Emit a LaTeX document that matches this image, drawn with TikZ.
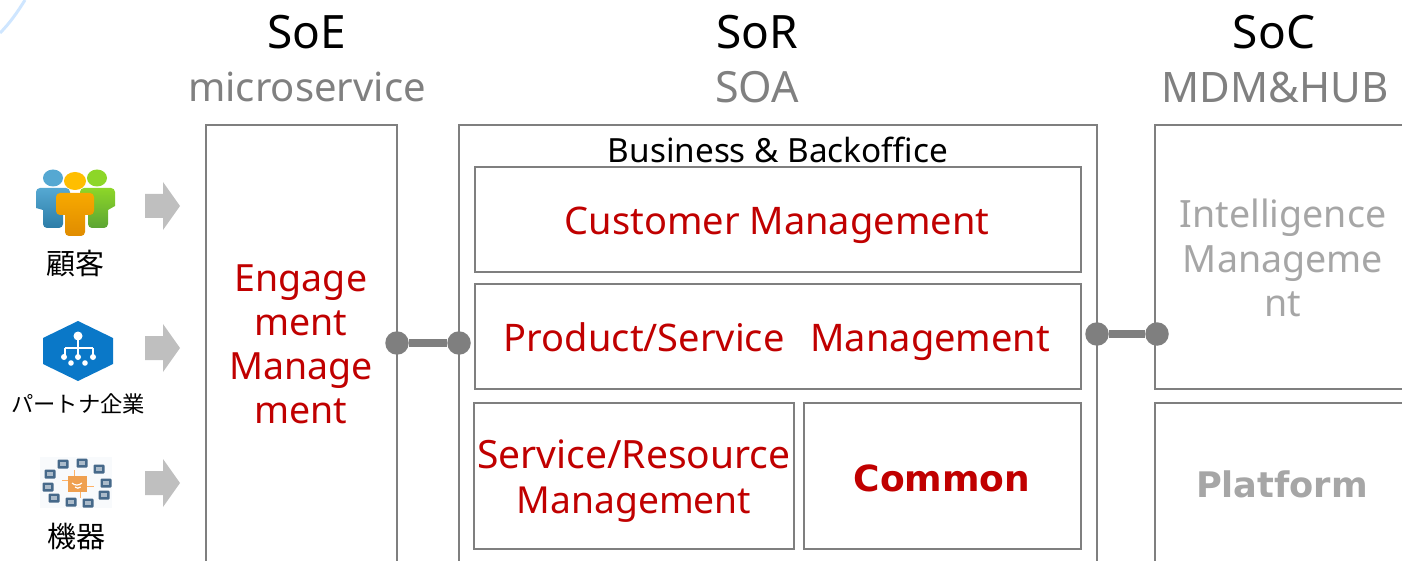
\documentclass[tikz,border=0pt]{standalone}
\usepackage{fontspec}
\setmainfont{Noto Sans}
\newfontfamily\jp{Noto Sans CJK JP}
\newfontfamily\hvy{DejaVu Sans Bold}
\definecolor{boxgray}{HTML}{7F7F7F}
\definecolor{softgray}{HTML}{A6A6A6}
\definecolor{headgray}{HTML}{808080}
\definecolor{arrowgray}{HTML}{BFBFBF}
\definecolor{darkred}{HTML}{C00000}
\definecolor{devblue}{HTML}{46698A}
\definecolor{arcblue}{HTML}{CFE6FF}
\definecolor{hexblue}{HTML}{0A78C8}
\definecolor{bluehi}{HTML}{55A8D2}
\definecolor{bluelo}{HTML}{2C7DA8}
\definecolor{greenhi}{HTML}{8DD628}
\definecolor{greenlo}{HTML}{5CA534}
\definecolor{orangehi}{HTML}{F7A900}
\definecolor{orangelo}{HTML}{E08C00}
\definecolor{orangehead}{HTML}{FFBE00}
\definecolor{chip}{HTML}{EFA050}
\definecolor{paleback}{HTML}{F8FAFC}
\newcommand{\fs}[1]{\fontsize{#1}{#1}\selectfont}
\tikzset{
  frame/.style={draw=boxgray,line width=2pt,anchor=north west,inner sep=0pt,outer sep=0pt,minimum width=#1},
  title/.style={font=\fs{46},text=black,inner sep=0pt},
  subtitle/.style={font=\fs{40},text=headgray,inner sep=0pt},
  redlabel/.style={font=\fs{38},text=darkred,inner sep=0pt,align=center},
  graylabel/.style={font=\fs{37.6},text=softgray,inner sep=0pt,align=center},
  who/.style={font=\jp\fs{29},text=black,inner sep=0pt},
  dot/.style={circle,fill=boxgray,inner sep=0pt,minimum size=23.5pt},
  link/.style={draw=boxgray,line width=8pt},
  inflow/.style={fill=arrowgray,draw=none},
  device/.style={fill=devblue,draw=none,rounded corners=1pt}
}
\newcommand{\inarrow}[1]{\fill[inflow] (145,#1-12) -- (163,#1-12) -- (163,#1-24) -- (180,#1) -- (163,#1+24) -- (163,#1+12) -- (145,#1+12) -- cycle;}
\begin{document}
\begin{tikzpicture}[x=1pt,y=-1pt]
\useasboundingbox (0,0) rectangle (1402,561);
\clip (0,0) rectangle (1402,561);
% corner arc
\draw[color=arcblue,line width=3pt] (25,0) .. controls (17,13) and (9,24) .. (0,33);
% headings
\node[title] (soe) at (307,32) {SoE};
\node[subtitle] (msv) at (307,87) {microservice};
\node[title] (sor) at (757,32) {SoR};
\node[subtitle,font=\fs{43}] (soa) at (757,87) {SOA};
\node[title] (soc) at (1274,32) {SoC};
\node[subtitle,font=\fs{42}] (mdm) at (1275,87) {MDM\&HUB};
% frames
\node[frame=191pt,minimum height=500pt] (boxE) at (206,125) {};
\node[frame=638pt,minimum height=500pt] (boxR) at (459,125) {};
\node[frame=300pt,minimum height=264pt] (boxI) at (1155,125) {};
\node[frame=300pt,minimum height=300pt] (boxP) at (1155,403) {};
\node[frame=606pt,minimum height=105pt] (boxCu) at (475,167) {};
\node[frame=606pt,minimum height=105pt] (boxPr) at (475,284) {};
\node[frame=320pt,minimum height=146pt] (boxSv) at (474,403) {};
\node[frame=277pt,minimum height=146pt] (boxCo) at (804,403) {};
% labels
\node[inner sep=0pt,font=\fs{33.3}] (biz) at (778,149.5) {Business \& Backoffice};
\node[redlabel,font=\fs{37.5}] (lE) at (301,344.5) {Engage\\[6.5pt]ment\\[6.5pt]Manage\\[6.5pt]ment};
\node[redlabel] (lCu) at (777,225) {Customer Management};
\node[redlabel] (lPr) at (777,342) {Product/Service\hspace{0.42em} Management};
\node[redlabel,font=\fs{39}] (lSv) at (634,481) {Service/Resource\\[6pt]{\fs{37.2}Management}};
\node[redlabel,font=\hvy\fs{36}] (lCo) at (942,478) {Common};
\node[graylabel] (lI) at (1283,258) {Intelligence\\[7pt]Manageme\\[7pt]nt};
\node[graylabel,font=\hvy\fs{35.2}] (lP) at (1282,484) {Platform};
% connectors
\node[dot] (d1) at (397,343) {};
\node[dot] (d2) at (459,343) {};
\node[dot] (d3) at (1097,334) {};
\node[dot] (d4) at (1157,334) {};
\draw[link] (d1) -- (d2);
\draw[link] (d3) -- (d4);
% arrows
\inarrow{206}
\inarrow{348}
\inarrow{483}
% people icon
\begin{scope}
\shade[top color=bluehi,bottom color=bluelo] (36,192) arc (180:270:4) -- (66,188) arc (-90:0:4) -- (70,206) -- (63,210) -- (63,224) arc (0:90:4) -- (47,228) arc (90:180:4) -- (43,210) -- (36,208) -- cycle;
\fill[bluehi] (53,178) ellipse (10 and 8.5);
\shade[top color=greenhi,bottom color=greenlo] (80,192) arc (180:270:4) -- (111,188) arc (-90:0:4) -- (115,206) -- (108,210) -- (108,224) arc (0:90:4) -- (92,228) arc (90:180:4) -- (88,210) -- (80,208) -- cycle;
\fill[greenhi] (97,178) ellipse (10 and 8.5);
\shade[top color=orangehi,bottom color=orangelo] (56,197) arc (180:270:4) -- (90,193) arc (-90:0:4) -- (94,211) arc (0:90:4) -- (85,215) -- (85,232) arc (0:90:4) -- (69,236) arc (90:180:4) -- (65,215) -- (60,215) arc (90:180:4) -- cycle;
\fill[orangehead] (75,181) ellipse (11 and 9);
\end{scope}
% hexagon icon
\fill[hexblue] (78,321) -- (113,338) -- (113,364) -- (78,381) -- (43,364) -- (43,338) -- cycle;
\begin{scope}[white]
\fill (78,336) circle (4.5);
\draw[line width=1.5pt] (78,340) -- (78,355) (65,348) -- (93,348) (65,348) -- (65,356) (93,348) -- (93,356);
\foreach \x in {64,78,93} \fill (\x,357) circle (3);
\foreach \x in {71,85} \fill (\x,363) circle (2.8);
\end{scope}
% device icon
\fill[paleback] (40,457) rectangle (112,508);
\fill[chip] (68,476) rectangle (87,492);
\draw[white,line width=1.2pt] (72,483) arc (135:45:7) (75,487) arc (135:45:4);
\draw[orange!60,line width=.8pt] (62,480) -- (68,480) (87,486) -- (94,486) (74,470) -- (74,476) (80,492) -- (80,498);
\foreach \px/\py in {63/464,82/463,99/469,106/483,104/495,88/503,71/502,54/498,48/487,50/474}{
  \fill[device] (\px-5.5,\py-4.5) rectangle (\px+5.5,\py+4.5);
  \fill[white,opacity=.55] (\px-3,\py-2) rectangle (\px+3,\py+2);
}
% who labels
\node[who] (w1) at (75,264) {顧客};
\node[who,font=\jp\fs{22.3}] (w2) at (78,404) {パートナ企業};
\node[who] (w3) at (76,537) {機器};
\end{tikzpicture}
\end{document}
